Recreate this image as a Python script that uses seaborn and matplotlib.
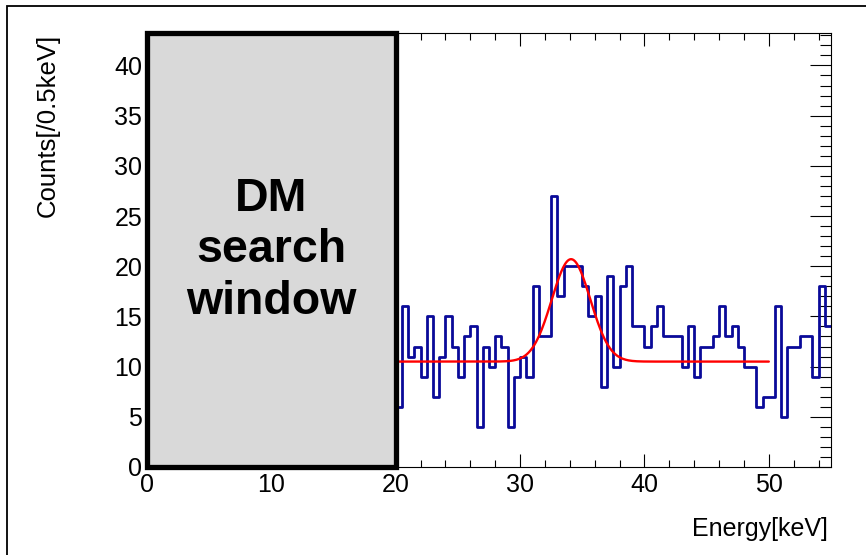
import numpy as np
import pandas as pd
import matplotlib
matplotlib.use("Agg")
import matplotlib.pyplot as plt
from matplotlib.patches import Rectangle
from matplotlib.ticker import MultipleLocator
import seaborn as sns

# Energy spectrum: counts in 0.5 keV bins, first bin starts at 20 keV
bin_width = 0.5
first_edge = 20.0
counts = [6, 16, 11, 12, 9, 15, 7, 11, 15, 12,
          9, 13, 14, 4, 12, 10, 13, 12, 4, 9,
          11, 9, 18, 13, 13, 27, 17, 20, 20, 20,
          18, 15, 17, 8, 19, 10, 18, 20, 14, 14,
          12, 14, 16, 13, 13, 13, 10, 14, 9, 12,
          12, 13, 16, 13, 14, 12, 10, 10, 6, 7,
          7, 16, 5, 12, 12, 13, 13, 9, 18, 14]

# Fit result: flat background plus a Gaussian peak
fit_const = 10.5
fit_amp = 10.2
fit_mean = 34.1
fit_sigma = 1.55
fit_range = (20.0, 50.0)

# Axes
x_range = (0, 55)
y_range = (0, 43.2)
x_ticks = [0, 10, 20, 30, 40, 50]
y_ticks = [0, 5, 10, 15, 20, 25, 30, 35, 40]
x_label = "Energy[keV]"
y_label = "Counts[/0.5keV]"

# Masked region
window = (0, 20)
window_label = "DM\nsearch\nwindow"

sns.set_theme(style="ticks")
plt.rcParams["font.family"] = ["Liberation Sans", "DejaVu Sans"]
plt.rcParams["text.color"] = "black"

W, H = 866, 555
fig = plt.figure(figsize=(W / 100, H / 100), dpi=100)
ax = fig.add_axes([147 / W, 1 - 467 / H, 684 / W, 433.7 / H])

last_edge = first_edge + bin_width * len(counts)
centers = first_edge + bin_width * (np.arange(len(counts)) + 0.5)
spec = pd.DataFrame({"energy": centers, "counts": counts})

sns.histplot(data=spec, x="energy", weights="counts", binwidth=bin_width,
             binrange=(first_edge, last_edge), element="step", fill=False,
             color="#0a0a99", linewidth=2.0, ax=ax, zorder=3)

xs = np.linspace(fit_range[0], fit_range[1], 400)
ys = fit_const + fit_amp * np.exp(-0.5 * ((xs - fit_mean) / fit_sigma) ** 2)
sns.lineplot(x=xs, y=ys, color="#ff0000", linewidth=1.7, ax=ax, zorder=4)

ax.add_patch(Rectangle((window[0], y_range[0]), window[1] - window[0],
                       y_range[1] - y_range[0], facecolor="#d9d9d9",
                       edgecolor="black", linewidth=3.8, zorder=6,
                       clip_on=False))
ax.text((window[0] + window[1]) / 2, 21.6, window_label, ha="center",
        va="center", fontsize=33.5, fontweight="bold", linespacing=1.22,
        color="black", zorder=7)

ax.set_xlim(*x_range)
ax.set_ylim(*y_range)
ax.set_xticks(x_ticks)
ax.set_yticks(y_ticks)
ax.xaxis.set_minor_locator(MultipleLocator(2))
ax.yaxis.set_minor_locator(MultipleLocator(1))
ax.tick_params(which="both", direction="in", top=True, right=True,
               color="black", width=0.8, labelsize=18, labelcolor="black")
ax.tick_params(axis="x", which="major", length=9.5, pad=4)
ax.tick_params(axis="x", which="minor", length=4.8)
ax.tick_params(axis="y", which="major", length=15, pad=3.5)
ax.tick_params(axis="y", which="minor", length=8)
for s in ax.spines.values():
    s.set_linewidth(0.8)
    s.set_color("black")

ax.set_xlabel(x_label, fontsize=18, loc="right", color="black")
ax.set_ylabel(y_label, fontsize=18.5, loc="top", color="black")
ax.xaxis.set_label_coords(0.996, -0.115)
ax.yaxis.set_label_coords(-0.127, 1.0)
ax.grid(False)

# Thin frame around the canvas
fig.add_artist(Rectangle((7.5 / W, -0.1), 1.2, 1.1 - 6 / H,
                         transform=fig.transFigure, fill=False,
                         edgecolor="black", linewidth=1.3))

fig.savefig("out.png", dpi=100)
